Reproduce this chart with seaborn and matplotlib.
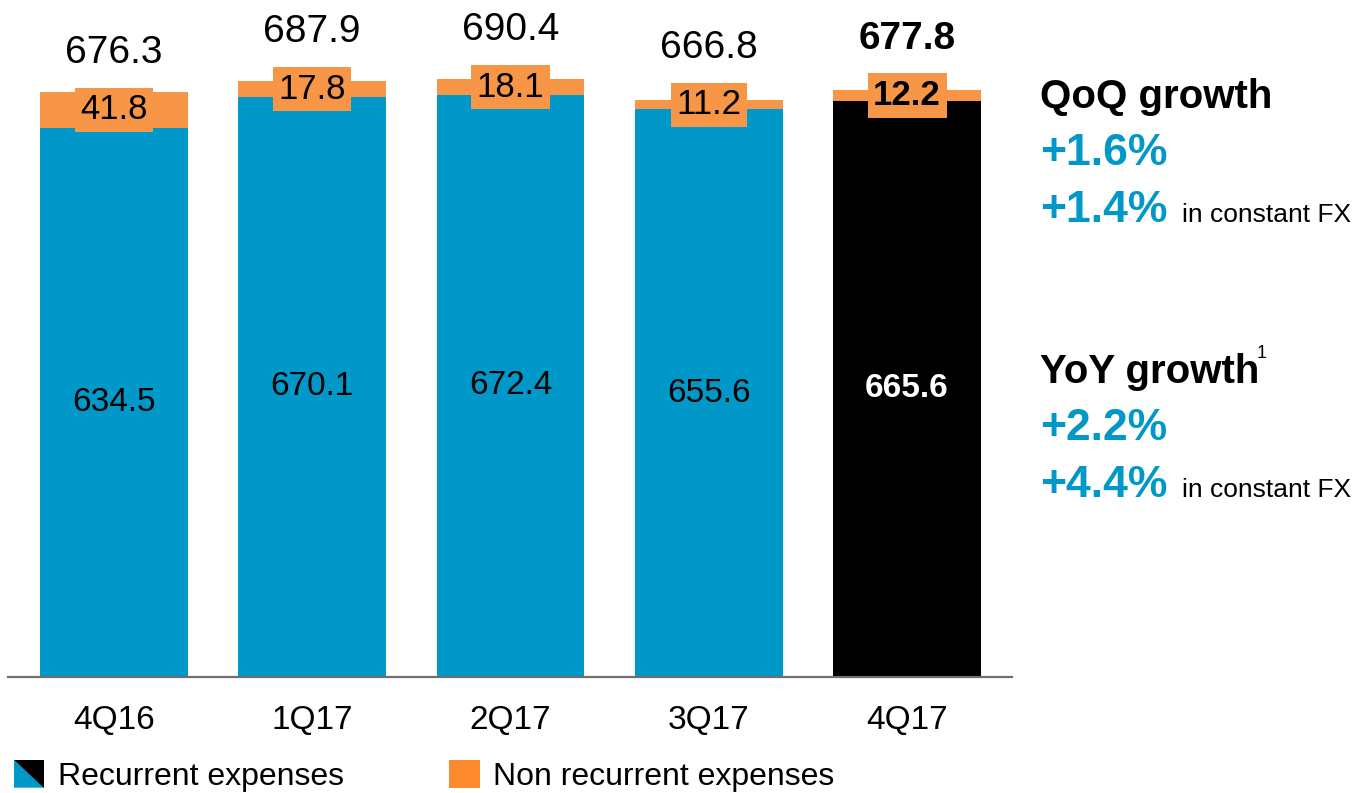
import matplotlib
matplotlib.use("Agg")
import matplotlib.pyplot as plt
from matplotlib.patches import Polygon, Patch
from matplotlib.legend_handler import HandlerBase
import seaborn as sns

# Quarterly operating expenses
quarters = ["4Q16", "1Q17", "2Q17", "3Q17", "4Q17"]
recurrent = [634.5, 670.1, 672.4, 655.6, 665.6]
non_recurrent = [41.8, 17.8, 18.1, 11.2, 12.2]
totals = [676.3, 687.9, 690.4, 666.8, 677.8]

qoq_lines = ["+1.6%", "+1.4%"]
yoy_lines = ["+2.2%", "+4.4%"]

BLUE = "#0098C9"
ORANGE = "#F79646"
LEGEND_ORANGE = "#FC8A2C"
BLACK = "#000000"

sns.set_theme(style="white")
plt.rcParams["font.family"] = ["Liberation Sans", "DejaVu Sans"]

W, H = 1355, 793
fig = plt.figure(figsize=(W / 100, H / 100), dpi=100)
ax = fig.add_axes([8 / W, 1 - 677 / H, (1012 - 8) / W, 677 / H])

rec_colors = [BLUE] * (len(quarters) - 1) + [BLACK]

# Stacked bars: full totals in orange, recurrent part drawn over them
sns.barplot(x=quarters, y=totals, color=ORANGE, width=0.745, saturation=1,
            linewidth=0, ax=ax)
sns.barplot(x=quarters, y=recurrent, hue=quarters, palette=rec_colors,
            width=0.745, saturation=1, linewidth=0, legend=False, ax=ax)

ax.set_xlim(-0.534, 4.529)
ax.set_ylim(0, 782)
ax.set_xlabel("")
ax.set_ylabel("")
ax.set_yticks([])
for side in ["top", "left", "right"]:
    ax.spines[side].set_visible(False)
ax.spines["bottom"].set_color("#6f6f6f")
ax.spines["bottom"].set_linewidth(1.6)
ax.tick_params(axis="x", length=0, pad=20, labelsize=24, labelcolor="black")

last = len(quarters) - 1
for i, (rec, nrec, tot) in enumerate(zip(recurrent, non_recurrent, totals)):
    is_last = i == last
    weight = "bold" if is_last else "normal"
    # recurrent value in the middle of the bar
    ax.text(i, rec / 2, f"{rec:.1f}", ha="center", va="center", fontsize=24,
            color="white" if is_last else "black", fontweight=weight)
    # non-recurrent value in an orange box on its segment
    mid = (rec + tot) / 2
    ax.text(i, mid, f"{nrec:.1f}", ha="center", va="center", fontsize=25,
            color="black", fontweight=weight,
            bbox=dict(boxstyle="square,pad=0.16", fc=ORANGE, ec="none"))
    # total above the bar
    ax.annotate(f"{tot:.1f}", xy=(i, mid), xytext=(0, 41),
                textcoords="offset points", ha="center", va="center",
                fontsize=28, color="black", fontweight=weight)

# Growth commentary on the right
x0 = 1040 / W
def fy(py):
    return 1 - py / H

fig.text(x0, fy(108), "QoQ growth", fontsize=29, fontweight="bold",
         color="black", va="baseline")
fig.text(x0, fy(165), qoq_lines[0], fontsize=32, fontweight="bold",
         color=BLUE, va="baseline")
fig.text(x0, fy(222), qoq_lines[1], fontsize=32, fontweight="bold",
         color=BLUE, va="baseline")
fig.text(1182 / W, fy(222), "in constant FX", fontsize=19, color="black",
         va="baseline")

fig.text(x0, fy(383), "YoY growth", fontsize=29, fontweight="bold",
         color="black", va="baseline")
fig.text(1257 / W, fy(358), "1", fontsize=13, color="black", va="baseline")
fig.text(x0, fy(440), yoy_lines[0], fontsize=32, fontweight="bold",
         color=BLUE, va="baseline")
fig.text(x0, fy(497), yoy_lines[1], fontsize=32, fontweight="bold",
         color=BLUE, va="baseline")
fig.text(1182 / W, fy(497), "in constant FX", fontsize=19, color="black",
         va="baseline")


class SplitSquareHandler(HandlerBase):
    """Square split along its diagonal: blue lower-left, black upper-right."""

    def create_artists(self, legend, orig_handle, xdescent, ydescent,
                       width, height, fontsize, trans):
        x, y = -xdescent, -ydescent
        lower = Polygon([[x, y], [x, y + height], [x + width, y]],
                        closed=True, fc=BLUE, ec="none", transform=trans)
        upper = Polygon([[x, y + height], [x + width, y + height],
                         [x + width, y]],
                        closed=True, fc=BLACK, ec="none", transform=trans)
        return [lower, upper]


class SplitKey:
    pass


handles = [SplitKey(), Patch(fc=LEGEND_ORANGE, ec="none")]
labels = ["Recurrent expenses", "Non recurrent expenses"]
fig.legend(handles, labels, handler_map={SplitKey: SplitSquareHandler()},
           loc="center left", bbox_to_anchor=(14 / W, fy(776)),
           ncol=2, frameon=False, fontsize=23, labelcolor="black",
           handlelength=0.95, handleheight=0.95, handletextpad=0.42,
           columnspacing=3.3, borderpad=0, borderaxespad=0)

fig.savefig("out.png", dpi=100)
